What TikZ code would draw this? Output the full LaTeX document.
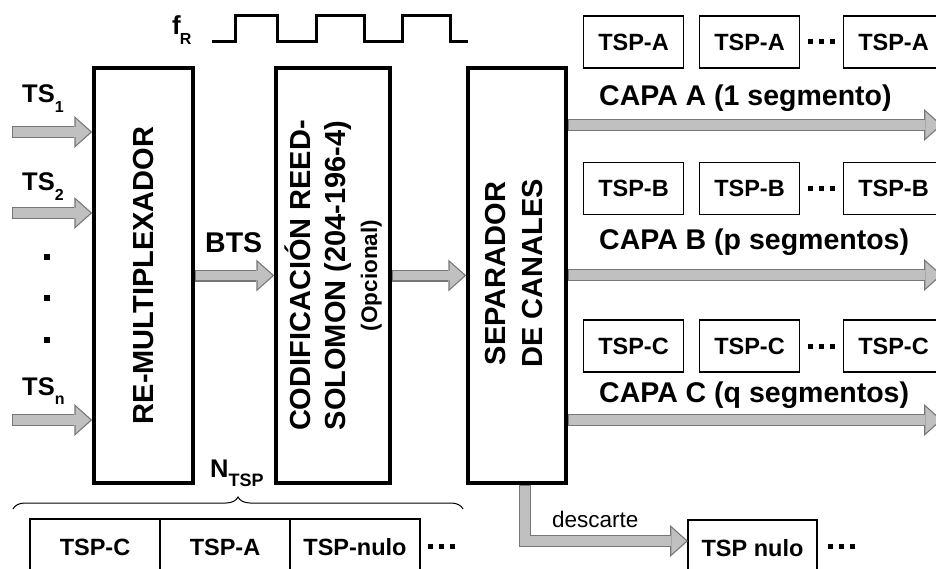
\documentclass[tikz,border=0pt]{standalone}
\usepackage{fontspec}
\setmainfont{Liberation Sans}
\usetikzlibrary{arrows.meta, positioning, calc, decorations.pathreplacing}
\definecolor{arrfill}{RGB}{192,192,192}
\definecolor{arredge}{RGB}{118,118,118}
\newcommand{\fsize}[1]{\fontsize{#1}{#1}\selectfont}
\newcommand{\lowsub}[2][16]{\raisebox{-9.5pt}{\fsize{#1}#2}}
\newcommand{\sqdots}{\rule{5pt}{5pt}\hspace{6pt}\rule{5pt}{5pt}\hspace{6pt}\rule{5pt}{5pt}}
\tikzset{
  bigblock/.style={rectangle, draw, line width=3.5pt, minimum width=99pt,
    minimum height=415pt, inner sep=0pt},
  blocktext/.style={rotate=90, align=center, inner sep=0pt,
    font=\fontsize{29}{35}\selectfont\bfseries},
  tspbox/.style={rectangle, draw, line width=1.3pt, minimum width=100pt,
    minimum height=52pt, inner sep=0pt, outer sep=0pt, font=\fsize{23.5}\bfseries},
  lbl/.style={font=\fsize{25.5}\bfseries, inner sep=0pt, anchor=base west},
  capa/.style={font=\fsize{28.5}\bfseries, inner sep=0pt, anchor=base west},
  dotmark/.style={rectangle, fill, minimum width=6pt, minimum height=6pt, inner sep=0pt},
  fatarrow/.style={draw=arrfill, line width=9.5pt, line join=miter,
    -{Triangle[width=26.5pt, length=14.8pt, line width=0pt]},
    shorten <=1.3pt, shorten >=1.9pt,
    preaction={draw=arredge, line width=12pt, line join=miter,
      shorten <=0pt, shorten >=0pt,
      -{Triangle[width=32pt, length=18pt, line width=0pt]}}},
  clock/.style={line width=3pt, line join=miter}
}
\begin{document}
\begin{tikzpicture}[x=1pt, y=-1pt]
  \useasboundingbox (0,0) rectangle (936,569);
  % Bloques principales
  \node[bigblock] (remux) at (143.5,275.5) {};
  \node[bigblock, minimum width=114pt] (rscod) at (333,275.5) {};
  \node[bigblock, minimum width=98pt] (sepcan) at (517,275.5) {};
  \node[blocktext] (remuxlbl) at (remux.center) {RE-MULTIPLEXADOR};
  \node[blocktext] (rscodlbl) at (rscod.center)
    {CODIFICACIÓN REED-\\SOLOMON (204-196-4)\\[-3pt]{\fsize{22.5}(Opcional)}};
  \node[blocktext] (sepcanlbl) at ($(sepcan.center)+(-3,-2)$) {SEPARADOR\\[2pt]DE CANALES};

  % Reloj
  \node[lbl, font=\fsize{26}\bfseries] (fR) at (172,35) {f\kern-1pt\lowsub{R}};
  \draw[clock] (212,42) -- (235,42) -- (235,16) -- (277,16) -- (277,42) -- (316,42)
    -- (316,16) -- (364,16) -- (364,42) -- (402,42) -- (402,16) -- (450,16)
    -- (450,42) -- (468,42);

  % Entradas
  \coordinate (in1) at (12,132);
  \coordinate (in2) at (12,213);
  \coordinate (inn) at (12,420);
  \node[lbl] (ts1) at (22,103) {TS\lowsub{1}};
  \node[lbl] (ts2) at (22,191) {TS\lowsub{2}};
  \node[lbl] (tsn) at (22,395) {TS\lowsub{n}};
  \node[dotmark] (dot1) at (47,257) {};
  \node[dotmark] (dot2) at (47,298) {};
  \node[dotmark] (dot3) at (47,340) {};
  \draw[fatarrow] (in1) -- (in1 -| remux.west);
  \draw[fatarrow] (in2) -- (in2 -| remux.west);
  \draw[fatarrow] (inn) -- (inn -| remux.west);

  % BTS
  \node[lbl, font=\fsize{28.5}\bfseries] (bts) at (205,252) {BTS};
  \draw[fatarrow] (remux.east) -- (rscod.west);
  \draw[fatarrow] (rscod.east) -- (sepcan.west);

  % Capas
  \node[tspbox] (tspA1) at (633.5,42) {TSP-A};
  \node[tspbox, right=16pt of tspA1] (tspA2) {TSP-A};
  \node[tspbox, right=44pt of tspA2] (tspA3) {TSP-A};
  \node (dotsA) at ($(tspA2.east)!0.5!(tspA3.west)$) {\sqdots};
  \node[capa] (capaA) at (599,106) {CAPA A (1 segmento)};

  \node[tspbox] (tspB1) at (633.5,188.5) {TSP-B};
  \node[tspbox, right=16pt of tspB1] (tspB2) {TSP-B};
  \node[tspbox, right=44pt of tspB2] (tspB3) {TSP-B};
  \node (dotsB) at ($(tspB2.east)!0.5!(tspB3.west)$) {\sqdots};
  \node[capa] (capaB) at (599,250) {CAPA B (p segmentos)};

  \node[tspbox] (tspC1) at (633.5,346) {TSP-C};
  \node[tspbox, right=16pt of tspC1] (tspC2) {TSP-C};
  \node[tspbox, right=44pt of tspC2] (tspC3) {TSP-C};
  \node (dotsC) at ($(tspC2.east)!0.5!(tspC3.west)$) {\sqdots};
  \node[capa] (capaC) at (599,402) {CAPA C (q segmentos)};

  \coordinate (outA) at (942,125);
  \coordinate (outB) at (942,275);
  \coordinate (outC) at (942,420);
  \draw[fatarrow] (sepcan.east |- outA) -- (outA);
  \draw[fatarrow] (sepcan.east |- outB) -- (outB);
  \draw[fatarrow] (sepcan.east |- outC) -- (outC);

  % Descarte
  \node[tspbox, minimum width=129pt, minimum height=56pt] (nulo) at (752.5,548) {TSP nulo};
  \node (nulodots) at (841.5,546) {\sqdots};
  \node[font=\fsize{22.5}, inner sep=0pt, anchor=base west] (dsclbl) at (552,527) {descarte};
  \draw[fatarrow] ($(sepcan.south)+(8,0)$) |- ($(nulo.west)+(0,-7)$);

  % Trama de salida
  \node[lbl] (ntsp) at (210,477) {N\lowsub[18]{TSP}};
  \draw[decorate, decoration={brace, amplitude=12pt}, line width=1pt] (13,509) -- (463,509);
  \node[tspbox, minimum width=130pt, minimum height=56pt] (frm1) at (95,547) {TSP-C};
  \node[tspbox, minimum width=130pt, minimum height=56pt, anchor=west] (frm2) at (frm1.east) {TSP-A};
  \node[tspbox, minimum width=130pt, minimum height=56pt, anchor=west] (frm3) at (frm2.east) {TSP-nulo};
  \node (frmdots) at (441,546) {\sqdots};
\end{tikzpicture}
\end{document}
